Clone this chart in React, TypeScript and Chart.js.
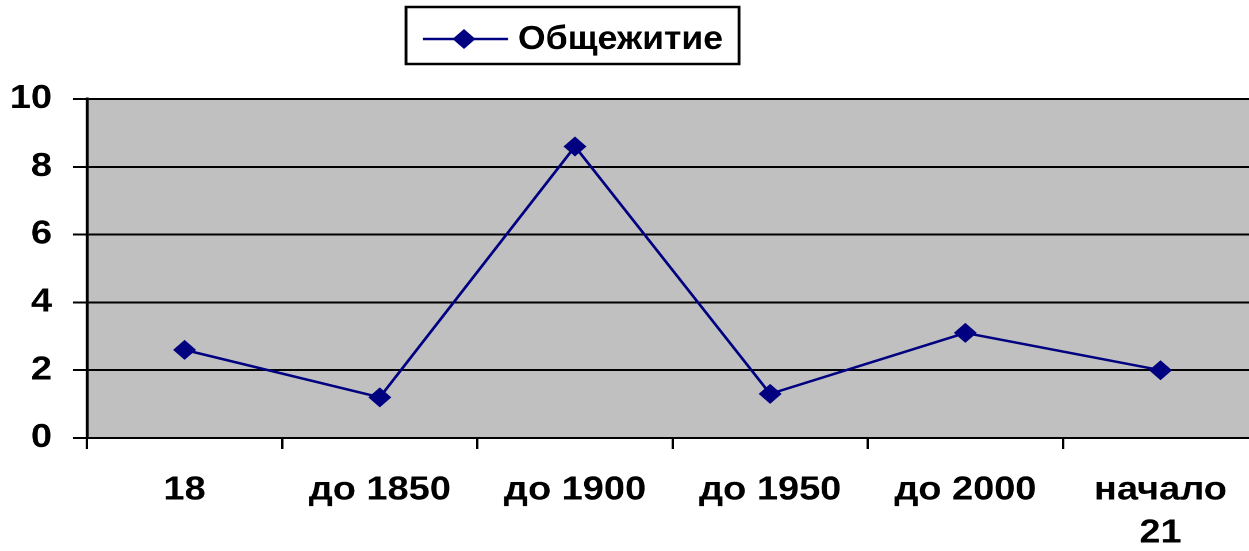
import React, { useEffect, useRef } from "react";
import { Chart, registerables } from "chart.js";

Chart.register(...registerables);

const categories: (string | string[])[] = ["18", "до 1850", "до 1900", "до 1950", "до 2000", ["начало", "21"]];
const seriesLabel = "Общежитие";
const seriesValues = [2.6, 1.2, 8.6, 1.3, 3.1, 2.0];
const yMin = 0;
const yMax = 10;
const yStep = 2;

const S = 1.15; // horizontal stretch of the whole picture
const W = Math.round(1270 / S);
const H = 551;
const FONT = '"Liberation Sans", Arial, sans-serif';
const NAVY = "#000080";

export default function App() {
  const ref = useRef<HTMLCanvasElement | null>(null);
  useEffect(() => {
    if (!ref.current) return;
    const bgPlugin = {
      id: "bg",
      beforeDraw(chart: any) {
        const { ctx, chartArea } = chart;
        ctx.save();
        ctx.fillStyle = "#C0C0C0";
        ctx.fillRect(chartArea.left, chartArea.top, chartArea.right - chartArea.left, chartArea.bottom - chartArea.top);
        ctx.restore();
      },
      afterDraw(chart: any) {
        const ctx = chart.ctx;
        ctx.save();
        const bx = 406 / S, bx2 = 739 / S, by = 7, by2 = 64;
        ctx.strokeStyle = "#000";
        ctx.lineWidth = 2.5;
        ctx.strokeRect(bx, by, bx2 - bx, by2 - by);
        ctx.strokeStyle = NAVY;
        ctx.lineWidth = 2.5;
        ctx.beginPath();
        ctx.moveTo(423 / S, 39);
        ctx.lineTo(508 / S, 39);
        ctx.stroke();
        ctx.fillStyle = NAVY;
        const cx = 464 / S, cy = 39, r = 10;
        ctx.beginPath();
        ctx.moveTo(cx - r, cy);
        ctx.lineTo(cx, cy - r);
        ctx.lineTo(cx + r, cy);
        ctx.lineTo(cx, cy + r);
        ctx.closePath();
        ctx.fill();
        ctx.fillStyle = "#000";
        ctx.font = `bold 33px ${FONT}`;
        const tw = ctx.measureText(seriesLabel).width;
        const target = 205 / S;
        ctx.translate(518 / S, 40);
        ctx.scale(target / tw, 1);
        ctx.textBaseline = "middle";
        ctx.fillText(seriesLabel, 0, 0);
        ctx.restore();
      },
    };
    const chart = new Chart(ref.current, {
      type: "line",
      data: {
        labels: categories,
        datasets: [
          {
            label: seriesLabel,
            data: seriesValues,
            borderColor: NAVY,
            backgroundColor: NAVY,
            borderWidth: 2.5,
            pointStyle: "rectRot",
            pointRadius: 10,
            pointBorderWidth: 0,
            pointBackgroundColor: NAVY,
            tension: 0,
          },
        ],
      },
      options: {
        animation: false,
        responsive: false,
        devicePixelRatio: 2,
        layout: { padding: { top: 99, left: 0, right: 0, bottom: 0 } },
        plugins: { legend: { display: false }, tooltip: { enabled: false } },
        scales: {
          x: {
            type: "category",
            offset: true,
            afterFit: (s: any) => { s.height = 113; },
            grid: {
              offset: true,
              drawOnChartArea: false,
              drawTicks: true,
              tickLength: 11,
              color: "#000",
              lineWidth: 2,
            },
            border: { color: "#000", width: 2 },
            ticks: {
              color: "#000",
              font: { family: FONT, size: 33, weight: "bold", lineHeight: 1.3 },
              padding: 20,
              maxRotation: 0,
              autoSkip: false,
            },
          },
          y: {
            min: yMin,
            max: yMax,
            afterFit: (s: any) => { s.width = 87 / S; },
            grid: { color: "#000", lineWidth: 2, tickLength: 14 / S, drawTicks: true },
            border: { color: "#000", width: 3 / S },
            ticks: {
              stepSize: yStep,
              color: "#000",
              padding: 21 / S,
              font: { family: FONT, size: 33, weight: "bold" },
            },
          },
        },
      },
      plugins: [bgPlugin],
    } as any);
    return () => chart.destroy();
  }, []);
  return (
    <div style={{ position: "fixed", left: 0, top: 0, width: 1249, height: 551, overflow: "hidden", background: "#fff" }}>
      <div style={{ width: W, height: H, transform: `scaleX(${S})`, transformOrigin: "0 0" }}>
        <canvas ref={ref} width={W} height={H} style={{ display: "block", width: W, height: H }} />
      </div>
    </div>
  );
}
